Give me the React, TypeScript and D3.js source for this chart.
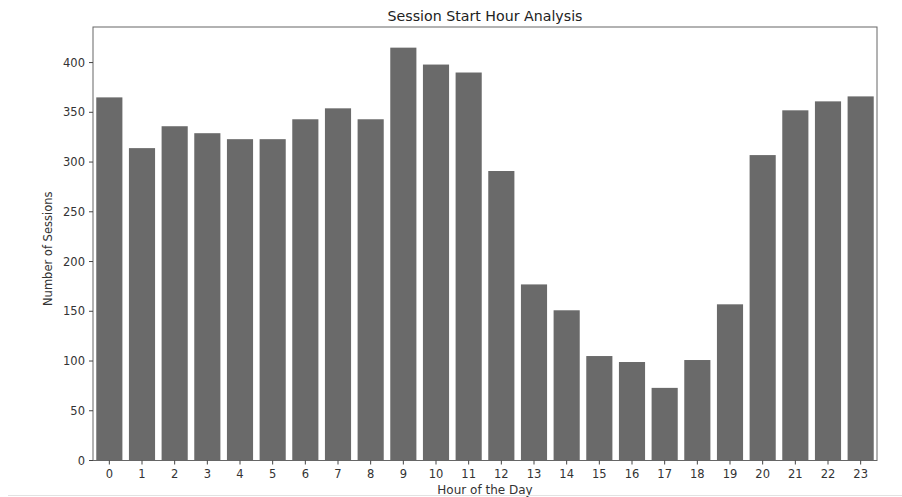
import React from "react";
import * as d3 from "d3";

const hours: string[] = Array.from({ length: 24 }, (_, i) => String(i));
const sessions: number[] = [365, 314, 336, 329, 323, 323, 343, 354, 343, 415, 398, 390, 291, 177, 151, 105, 99, 73, 101, 157, 307, 352, 361, 366];
const yTicks: number[] = [0, 50, 100, 150, 200, 250, 300, 350, 400];
const title = "Session Start Hour Analysis";
const xLabel = "Hour of the Day";
const yLabel = "Number of Sessions";

const W = 902;
const H = 497;
const M = { left: 93, right: 877, top: 27, bottom: 460.5 };
const FONT = "'DejaVu Sans', sans-serif";

export default function App() {
  const x = d3.scaleBand<string>().domain(hours).range([M.left, M.right]).paddingInner(0.2).paddingOuter(0.1);
  const yMax = (d3.max(sessions) as number) * 1.05;
  const y = d3.scaleLinear().domain([0, yMax]).range([M.bottom, M.top]);
  const cx = (M.left + M.right) / 2;
  return (
    <svg width={W} height={H} style={{ position: "absolute", left: 0, top: 0, background: "#fff" }}>
      <text x={cx} y={21} textAnchor="middle" fontFamily={FONT} fontSize={14.2} fill="#222">{title}</text>
      {sessions.map((v, i) => (
        <rect key={i} x={x(hours[i])} y={y(v)} width={x.bandwidth()} height={y(0) - y(v)} fill="#6a6a6a" />
      ))}
      <rect x={M.left} y={M.top} width={M.right - M.left} height={M.bottom - M.top} fill="none" stroke="#666" strokeWidth={1} />
      {yTicks.map((t) => (
        <g key={t}>
          <line x1={M.left - 4} x2={M.left} y1={y(t)} y2={y(t)} stroke="#444" />
          <text x={M.left - 8} y={y(t)} dy="0.35em" textAnchor="end" fontFamily={FONT} fontSize={11.5} fill="#333">{t}</text>
        </g>
      ))}
      {hours.map((h) => {
        const px = (x(h) as number) + x.bandwidth() / 2;
        return (
          <g key={h}>
            <line x1={px} x2={px} y1={M.bottom} y2={M.bottom + 4} stroke="#444" />
            <text x={px} y={M.bottom + 17.5} textAnchor="middle" fontFamily={FONT} fontSize={11.5} fill="#333">{h}</text>
          </g>
        );
      })}
      <text x={cx} y={494} textAnchor="middle" fontFamily={FONT} fontSize={12} fill="#333">{xLabel}</text>
      <text transform={`translate(52,${(M.top + M.bottom) / 2 + 5}) rotate(-90)`} textAnchor="middle" fontFamily={FONT} fontSize={11.5} fill="#333">{yLabel}</text>
      <line x1={8} x2={W} y1={495.5} y2={495.5} stroke="#e2e2e2" strokeWidth={1} />
    </svg>
  );
}
